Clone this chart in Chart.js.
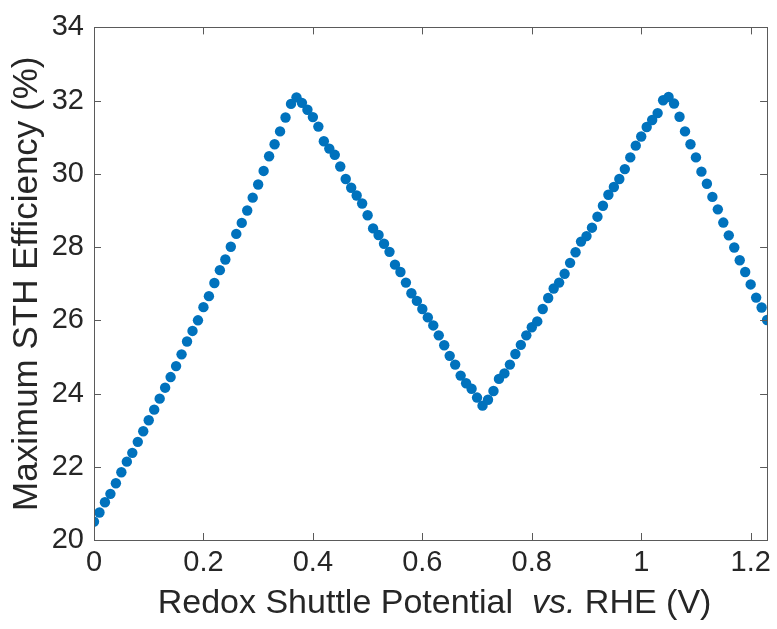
<!DOCTYPE html>
<html>
<head>
<meta charset="utf-8">
<script src="https://cdn.jsdelivr.net/npm/chart.js@4/dist/chart.umd.min.js"></script>
<style>
  html, body { margin: 0; padding: 0; background: #fff; }
  #wrap { width: 777px; height: 629px; }
</style>
</head>
<body>
<div id="wrap"><canvas id="sthChart"></canvas></div>
<script>
// redox shuttle potential vs. RHE (V)
const potential = [
    0.00, 0.01, 0.02, 0.03, 0.04, 0.05, 0.06, 0.07, 0.08, 0.09,
    0.10, 0.11, 0.12, 0.13, 0.14, 0.15, 0.16, 0.17, 0.18, 0.19,
    0.20, 0.21, 0.22, 0.23, 0.24, 0.25, 0.26, 0.27, 0.28, 0.29,
    0.30, 0.31, 0.32, 0.33, 0.34, 0.35, 0.36, 0.37, 0.38, 0.39,
    0.40, 0.41, 0.42, 0.43, 0.44, 0.45, 0.46, 0.47, 0.48, 0.49,
    0.50, 0.51, 0.52, 0.53, 0.54, 0.55, 0.56, 0.57, 0.58, 0.59,
    0.60, 0.61, 0.62, 0.63, 0.64, 0.65, 0.66, 0.67, 0.68, 0.69,
    0.70, 0.71, 0.72, 0.73, 0.74, 0.75, 0.76, 0.77, 0.78, 0.79,
    0.80, 0.81, 0.82, 0.83, 0.84, 0.85, 0.86, 0.87, 0.88, 0.89,
    0.90, 0.91, 0.92, 0.93, 0.94, 0.95, 0.96, 0.97, 0.98, 0.99,
    1.00, 1.01, 1.02, 1.03, 1.04, 1.05, 1.06, 1.07, 1.08, 1.09,
    1.10, 1.11, 1.12, 1.13, 1.14, 1.15, 1.16, 1.17, 1.18, 1.19,
    1.20, 1.21, 1.22, 1.23
];

// maximum STH efficiency (%)
const efficiency = [
    20.50, 20.75, 21.03, 21.26, 21.55, 21.85, 22.14, 22.38, 22.68, 22.97,
    23.27, 23.56, 23.86, 24.16, 24.45, 24.75, 25.07, 25.42, 25.71, 26.00,
    26.36, 26.66, 27.02, 27.37, 27.66, 28.01, 28.36, 28.66, 29.00, 29.35,
    29.71, 30.08, 30.48, 30.81, 31.16, 31.54, 31.91, 32.09, 31.94, 31.75,
    31.55, 31.29, 30.89, 30.69, 30.52, 30.20, 29.86, 29.62, 29.41, 29.19,
    28.87, 28.51, 28.33, 28.09, 27.87, 27.52, 27.32, 27.03, 26.74, 26.53,
    26.31, 26.08, 25.86, 25.59, 25.32, 25.03, 24.79, 24.49, 24.28, 24.13,
    23.89, 23.67, 23.83, 24.07, 24.40, 24.55, 24.79, 25.08, 25.33, 25.59,
    25.81, 25.97, 26.31, 26.61, 26.87, 27.03, 27.27, 27.57, 27.86, 28.15,
    28.30, 28.53, 28.83, 29.13, 29.43, 29.64, 29.86, 30.13, 30.45, 30.77,
    31.02, 31.28, 31.47, 31.66, 32.01, 32.10, 31.92, 31.56, 31.16, 30.81,
    30.45, 30.06, 29.73, 29.37, 29.03, 28.67, 28.32, 27.99, 27.64, 27.32,
    26.98, 26.62, 26.35, 26.01
];

const xTicks = [0, 0.2, 0.4, 0.6, 0.8, 1, 1.2];
const yTicks = [20, 22, 24, 26, 28, 30, 32, 34];

// x label pieces, the middle one is italic
const xLabelParts = [
    { text: 'Redox Shuttle Potential  ', italic: false },
    { text: 'vs.', italic: true },
    { text: ' RHE (V)', italic: false }
];

const axisColor = '#5a5a5a';
const textColor = '#262626';
const fontFamily = '"Liberation Sans", Arial, Helvetica, sans-serif';

// matlab style box with inward ticks on all four sides
const boxPlugin = {
    id: 'boxPlugin',
    afterDatasetsDraw(chart) {
        const ctx = chart.ctx;
        const area = chart.chartArea;
        const xs = chart.scales.x;
        const ys = chart.scales.y;
        const len = 7;
        ctx.save();
        ctx.strokeStyle = axisColor;
        ctx.lineWidth = 1;
        ctx.beginPath();
        xTicks.forEach(v => {
            const px = Math.round(xs.getPixelForValue(v)) + 0.5;
            ctx.moveTo(px, area.bottom);
            ctx.lineTo(px, area.bottom - len);
            ctx.moveTo(px, area.top);
            ctx.lineTo(px, area.top + len);
        });
        yTicks.forEach(v => {
            const py = Math.round(ys.getPixelForValue(v)) + 0.5;
            ctx.moveTo(area.left, py);
            ctx.lineTo(area.left + len, py);
            ctx.moveTo(area.right, py);
            ctx.lineTo(area.right - len, py);
        });
        ctx.stroke();
        ctx.strokeRect(Math.round(area.left) + 0.5, Math.round(area.top) + 0.5,
            Math.round(area.right - area.left), Math.round(area.bottom - area.top));
        ctx.restore();
    },
    afterDraw(chart) {
        // x axis title with the italic "vs."
        const ctx = chart.ctx;
        const area = chart.chartArea;
        const size = 34;
        ctx.save();
        ctx.fillStyle = textColor;
        ctx.textBaseline = 'middle';
        ctx.textAlign = 'left';
        let total = 0;
        xLabelParts.forEach(p => {
            ctx.font = (p.italic ? 'italic ' : '') + size + 'px ' + fontFamily;
            p.w = ctx.measureText(p.text).width;
            total += p.w;
        });
        let x = (area.left + area.right) / 2 + 4 - total / 2;
        const y = 604;
        xLabelParts.forEach(p => {
            ctx.font = (p.italic ? 'italic ' : '') + size + 'px ' + fontFamily;
            ctx.fillText(p.text, x, y);
            x += p.w;
        });
        ctx.restore();
    }
};

new Chart(document.getElementById('sthChart'), {
    type: 'scatter',
    data: {
        datasets: [{
            label: 'Maximum STH Efficiency',
            data: potential.map((p, i) => ({ x: p, y: efficiency[i] })),
            backgroundColor: '#0072BD',
            borderWidth: 0,
            pointRadius: 5.2,
            pointHoverRadius: 5.2
        }]
    },
    options: {
        responsive: true,
        maintainAspectRatio: false,
        animation: false,
        layout: {
            padding: { left: 0, right: 7, top: 22, bottom: 0 }
        },
        plugins: {
            legend: { display: false },
            tooltip: { enabled: false }
        },
        scales: {
            x: {
                type: 'linear',
                min: 0,
                max: 1.23,
                afterFit: scale => { scale.height = 89; },
                afterBuildTicks: scale => { scale.ticks = xTicks.map(v => ({ value: v })); },
                grid: { display: false, drawTicks: false },
                border: { display: false },
                ticks: {
                    padding: 6,
                    color: textColor,
                    font: { family: fontFamily, size: 29 },
                    callback: v => String(v)
                },
                title: { display: false }
            },
            y: {
                min: 20,
                max: 34,
                afterFit: scale => { scale.width = 94; },
                afterBuildTicks: scale => { scale.ticks = yTicks.map(v => ({ value: v })); },
                grid: { display: false, drawTicks: false },
                border: { display: false },
                ticks: {
                    padding: 10,
                    color: textColor,
                    font: { family: fontFamily, size: 29 },
                    callback: v => String(v)
                },
                title: {
                    display: true,
                    text: 'Maximum STH Efficiency (%)',
                    color: textColor,
                    font: { family: fontFamily, size: 35 },
                    padding: { top: 6, bottom: 0 }
                }
            }
        }
    },
    plugins: [boxPlugin]
});
</script>
</body>
</html>
